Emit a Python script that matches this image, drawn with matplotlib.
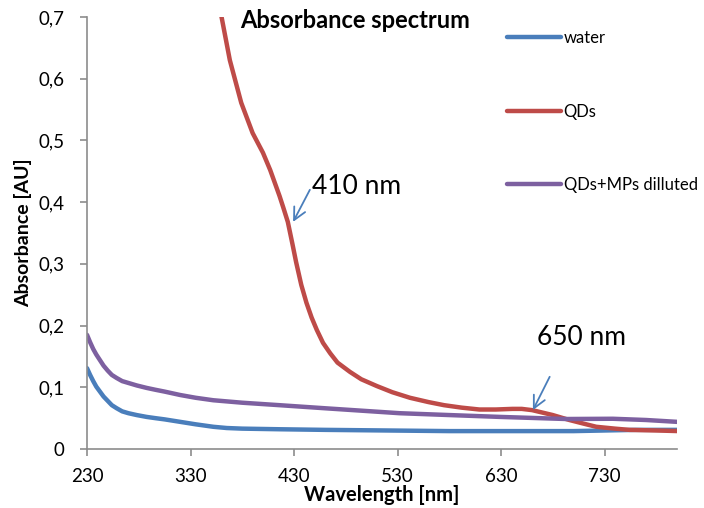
import matplotlib
matplotlib.use("Agg")
import matplotlib.pyplot as plt
from matplotlib.ticker import FuncFormatter, MultipleLocator, FixedLocator

plt.rcParams["font.family"] = ["Lato", "DejaVu Sans"]

# Wavelength [nm] and absorbance [AU] for each sample
water_wl = [230, 233, 236, 239, 242.5, 246, 250, 254, 258.7, 264, 270, 278, 287.6,
            296, 305, 320, 335, 352, 365, 380, 416, 460, 520, 580, 640, 700, 730,
            760, 800]
water_abs = [0.131, 0.120, 0.110, 0.101, 0.093, 0.085, 0.078, 0.071, 0.066, 0.061,
             0.058, 0.055, 0.052, 0.050, 0.048, 0.044, 0.040, 0.036, 0.034, 0.033,
             0.032, 0.031, 0.030, 0.029, 0.029, 0.029, 0.030, 0.031, 0.031]

qds_wl = [352, 360, 368, 379, 390, 400, 407, 416, 419.5, 424, 428.5, 432, 437,
          442, 447, 452, 458, 465, 472, 484, 495, 510, 525, 542, 560, 575, 592,
          609, 625, 641, 650, 660, 670, 680, 696, 710, 722, 740, 754, 780, 802]
qds_abs = [0.74, 0.70, 0.630, 0.561, 0.512, 0.480, 0.452, 0.410, 0.392, 0.368,
           0.332, 0.303, 0.266, 0.237, 0.213, 0.193, 0.172, 0.155, 0.140, 0.125,
           0.113, 0.102, 0.092, 0.083, 0.076, 0.071, 0.067, 0.064, 0.064, 0.065,
           0.065, 0.063, 0.059, 0.055, 0.047, 0.041, 0.036, 0.033, 0.031, 0.030,
           0.029]

mix_wl = [230, 233, 236, 239, 242.5, 246, 250, 254, 258.7, 264, 270, 278, 287.6,
          296, 305, 320, 335, 352, 380, 416, 460, 532, 580, 629, 693, 738, 770, 800]
mix_abs = [0.185, 0.173, 0.162, 0.153, 0.144, 0.135, 0.127, 0.120, 0.115, 0.110,
           0.107, 0.103, 0.099, 0.096, 0.093, 0.0875, 0.083, 0.079, 0.075, 0.071,
           0.066, 0.058, 0.055, 0.052, 0.0486, 0.049, 0.047, 0.044]

labels = ["water", "QDs", "QDs+MPs dilluted"]
colors = ["#4A7EBB", "#BE4B48", "#7D60A0"]

x_ticks = [230, 330, 430, 530, 630, 730]

fig = plt.figure(figsize=(7.04, 5.08), dpi=100)
ax = fig.add_axes([87 / 704, 1 - 449 / 508, (677 - 87) / 704, (449 - 17) / 508])

for wl, ab, lab, col in zip([water_wl, qds_wl, mix_wl], [water_abs, qds_abs, mix_abs],
                            labels, colors):
    ax.plot(wl, ab, color=col, lw=3.2, label=lab, solid_capstyle="round",
            solid_joinstyle="round")

ax.set_xlim(230, 800)
ax.set_ylim(0, 0.7)
ax.xaxis.set_major_locator(FixedLocator(x_ticks))
ax.yaxis.set_major_locator(MultipleLocator(0.1))


def comma_fmt(v, pos):
    if abs(v) < 1e-9:
        return "0"
    return f"{v:.1f}".replace(".", ",")


ax.yaxis.set_major_formatter(FuncFormatter(comma_fmt))

for side in ["top", "right"]:
    ax.spines[side].set_visible(False)
for side in ["left", "bottom"]:
    ax.spines[side].set_color("#8C8C8C")
    ax.spines[side].set_linewidth(1.2)
ax.tick_params(axis="both", colors="#8C8C8C", length=5, width=1.2, direction="out",
               labelcolor="black", labelsize=13.5)
ax.tick_params(axis="y", pad=11)
ax.tick_params(axis="x", pad=8.5)

ax.set_xlabel("Wavelength [nm]", fontsize=14.5, fontweight="bold", labelpad=0)
ax.set_ylabel("Absorbance [AU]", fontsize=14, fontweight="bold", labelpad=5)

fig.text(0.504, 0.960, "Absorbance spectrum", fontsize=17, fontweight="bold",
         ha="center", va="center")

leg = ax.legend(loc="upper left", bbox_to_anchor=(507 / 704, 1 - 30 / 508),
                bbox_transform=fig.transFigure, frameon=False, fontsize=12,
                handlelength=3.25, handletextpad=0.15, labelspacing=3.45,
                borderpad=0, borderaxespad=0)

arrow_style = dict(arrowstyle="->", color="#4A7EBB", lw=1.3,
                   mutation_scale=22, shrinkA=0, shrinkB=0)
ax.annotate("", xy=(429.1, 0.368), xytext=(445.3, 0.420), arrowprops=arrow_style)
ax.annotate("", xy=(660.8, 0.063), xytext=(677, 0.117), arrowprops=arrow_style)
ax.text(447, 0.426, "410 nm", fontsize=19, ha="left", va="center")
ax.text(665, 0.181, "650 nm", fontsize=19, ha="left", va="center")

fig.savefig("out.png", dpi=100)
